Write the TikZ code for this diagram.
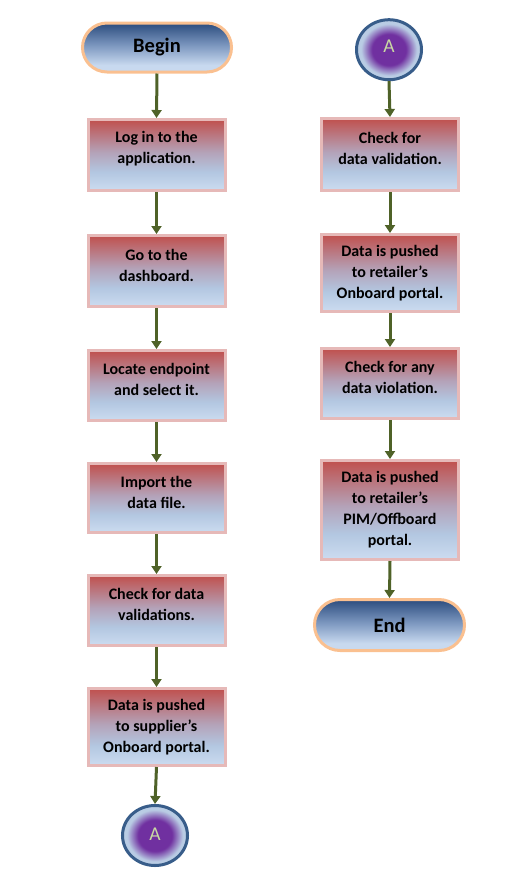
\documentclass[tikz,border=0pt]{standalone}
\usepackage{fontspec}
\setmainfont{Carlito}
\usetikzlibrary{shapes.geometric,arrows.meta}
\definecolor{boxred}{HTML}{C0504D}
\definecolor{boxmauve}{HTML}{B4A2B8}
\definecolor{boxblue}{HTML}{B3C7E1}
\definecolor{boxpale}{HTML}{CCDCF0}
\definecolor{boxborder}{HTML}{E6B9B8}
\definecolor{termdark}{HTML}{2B4C7E}
\definecolor{termmid}{HTML}{7D98C0}
\definecolor{termlight}{HTML}{C8D9EF}
\definecolor{termborder}{HTML}{FAC090}
\definecolor{conpurple}{HTML}{7030A0}
\definecolor{conblue}{HTML}{B9CCE4}
\definecolor{conborder}{HTML}{385D8A}
\definecolor{context}{HTML}{C9D9A3}
\definecolor{arrowgreen}{HTML}{4F6228}
\pgfdeclareverticalshading{redblue}{100bp}{color(0bp)=(boxpale); color(25bp)=(boxpale); color(38bp)=(boxblue); color(52bp)=(boxmauve); color(75bp)=(boxred); color(100bp)=(boxred)}
\pgfdeclareverticalshading{termshade}{100bp}{color(0bp)=(termlight); color(25bp)=(termlight); color(32bp)=(termlight); color(52bp)=(termmid); color(75bp)=(termdark); color(100bp)=(termdark)}
\pgfdeclareradialshading{conshade}{\pgfpoint{0bp}{0bp}}{color(0bp)=(conpurple); color(13bp)=(conpurple); color(21.5bp)=(conblue); color(25bp)=(conblue); color(50bp)=(conblue)}
\begin{document}
\begin{tikzpicture}[x=1pt,y=-1pt,
  stepbox/.style={rectangle, draw=boxborder, line width=3pt, shade, shading=redblue, minimum width=137pt, inner sep=0pt},
  txt/.style={font=\bfseries\fontsize{16}{21}\selectfont, align=center, text=black, inner sep=0pt},
  term/.style={rectangle, rounded corners=24.5pt, draw=termborder, line width=3pt, shade, shading=termshade, minimum width=149pt, minimum height=49pt, font=\bfseries\fontsize{20.5}{24}\selectfont, text=black},
  conn/.style={ellipse, draw=conborder, line width=3pt, shade, shading=conshade, minimum width=65pt, minimum height=60pt, inner sep=0pt},
  contxt/.style={text=context, font=\fontsize{19.5}{21}\selectfont, inner sep=0pt},
  arr/.style={draw=arrowgreen, line width=3pt, -{Triangle[width=10pt,length=8pt]}}]
\useasboundingbox (0,0) rectangle (530,879);
% left column
\node[term] (begin) at (157,47.5) {Begin};
\node[stepbox, minimum height=71pt] (b1) at (156.5,155) {};
\node[txt] (t1) at ([yshift=6pt]b1.center) {Log in to the\\application.};
\node[stepbox, minimum height=71pt] (b2) at (156.5,271) {};
\node[txt] (t2) at ([yshift=6pt]b2.center) {Go to the\\dashboard.};
\node[stepbox, minimum height=70pt] (b3) at (156.5,385.5) {};
\node[txt] (t3) at ([yshift=6pt]b3.center) {Locate endpoint\\and select it.};
\node[stepbox, minimum height=69pt] (b4) at (156.5,498) {};
\node[txt] (t4) at ([yshift=6pt]b4.center) {Import the\\data file.};
\node[stepbox, minimum height=70pt] (b5) at (156.5,610.5) {};
\node[txt] (t5) at ([yshift=6pt]b5.center) {Check for data\\validations.};
\node[stepbox, minimum height=77pt] (b6) at (156.5,727) {};
\node[txt] (t6) at (b6.center) {Data is pushed\\to supplier’s\\Onboard portal.};
\node[conn] (a1) at (155,835.5) {};
\node[contxt] (la1) at ([yshift=1pt]a1.center) {A};
% right column
\node[conn] (a2) at (389,49.7) {};
\node[contxt] (la2) at ([yshift=3pt]a2.center) {A};
\node[stepbox, minimum height=72pt] (c1) at (390,154.5) {};
\node[txt] (u1) at ([yshift=6pt]c1.center) {Check for\\data validation.};
\node[stepbox, minimum height=77pt] (c2) at (390,273) {};
\node[txt] (u2) at (c2.center) {Data is pushed\\to retailer’s\\Onboard portal.};
\node[stepbox, minimum height=70pt] (c3) at (390,383.5) {};
\node[txt] (u3) at ([yshift=6pt]c3.center) {Check for any\\data violation.};
\node[stepbox, minimum height=99pt] (c4) at (390,510) {};
\node[txt] (u4) at (c4.center) {Data is pushed\\to retailer’s\\PIM/Offboard\\portal.};
\node[term, minimum width=150pt, minimum height=51pt, rounded corners=25.5pt] (end) at (389.5,625) {End};
% connectors
\draw[arr] (begin.south) -- (b1.north);
\draw[arr] (b1.south) -- (b2.north);
\draw[arr] (b2.south) -- (b3.north);
\draw[arr] (b3.south) -- (b4.north);
\draw[arr] (b4.south) -- (b5.north);
\draw[arr] (b5.south) -- (b6.north);
\draw[arr] (b6.south) -- (a1.north);
\draw[arr] (a2.south) -- (c1.north);
\draw[arr] (c1.south) -- (c2.north);
\draw[arr] (c2.south) -- (c3.north);
\draw[arr] (c3.south) -- (c4.north);
\draw[arr] (c4.south) -- (end.north);
\end{tikzpicture}
\end{document}
